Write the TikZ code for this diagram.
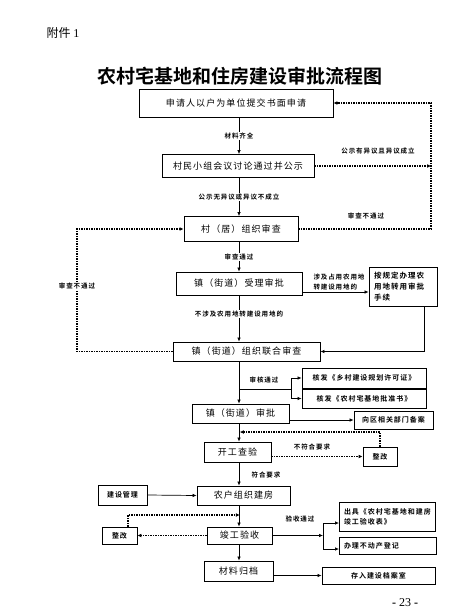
\documentclass[tikz,border=0pt]{standalone}
\usepackage{fontspec}
\usepackage{tikz}
\usetikzlibrary{arrows.meta,positioning}
\newfontfamily\cjk{Noto Sans CJK SC}[LetterSpace=12]
\newfontfamily\cjksmall{Noto Sans CJK SC Bold}[LetterSpace=14]
\newfontfamily\cjkplain{Noto Sans CJK SC}
\newfontfamily\cjktitle{Noto Sans CJK SC Bold}
\newfontfamily\pagefont{Liberation Serif}

\begin{document}
\begin{tikzpicture}[x=1pt, y=-1pt,
  box/.style={draw, line width=0.8pt, minimum height=19pt, inner sep=0pt, align=center,
              font=\cjk\fontsize{9}{11}\selectfont},
  smallbox/.style={draw, line width=0.8pt, inner xsep=5pt, inner ysep=2pt, align=left,
                   font=\cjksmall\fontsize{7}{10}\selectfont},
  tag/.style={inner sep=1pt, align=left, font=\cjksmall\fontsize{6.5}{10}\selectfont},
  gap/.style={tag, fill=white},
  link/.style={line width=0.7pt},
  route/.style={link, -{Latex[length=4pt,width=3.6pt]}},
  dotroute/.style={line width=1.3pt, dash pattern=on 1.3pt off 1.2pt,
                   -{Latex[length=4pt,width=3.8pt]}}
]
\fill[white] (0,0) rectangle (475,613);
\useasboundingbox (0,0) rectangle (475,613);

\node[font=\cjkplain\fontsize{12}{14}\selectfont] (annex) at (63,33) {附件 {\pagefont 1}};
\node[font=\cjktitle\fontsize{19}{22}\selectfont] (title) at (240,76) {农村宅基地和住房建设审批流程图};

\coordinate (trunk) at (239,0);
\node[box, minimum width=194pt, minimum height=28pt] (apply) at (236,103) {申请人以户为单位提交书面申请};
\node[box, minimum width=152pt, minimum height=23pt] (meeting) at (238,166) {村民小组会议讨论通过并公示};
\node[box, minimum width=114pt, minimum height=25pt] (review) at (241,229) {村（居）组织审查};
\node[box, minimum width=126pt, minimum height=23pt] (accept) at (239,283.5) {镇（街道）受理审批};
\node[smallbox, minimum width=68pt, minimum height=39pt, text width=58pt, font=\cjksmall\fontsize{7.5}{11}\selectfont]
  (farmland) at (403,286.5) {按规定办理农\\用地转用审批\\手续};
\node[box, minimum width=147pt] (joint) at (246.5,351.5) {镇（街道）组织联合审查};
\node[smallbox, minimum width=124pt, minimum height=20pt] (permitA) at (364,378) {核发《乡村建设规划许可证》};
\node[smallbox, minimum width=124pt, minimum height=19pt] (permitB) at (364,398.5) {核发《农村宅基地批准书》};
\node[box, minimum width=97pt] (approve) at (240.5,413.5) {镇（街道）审批};
\node[smallbox, minimum width=79pt, minimum height=18pt] (record) at (393.5,420) {向区相关部门备案};
\node[box, minimum width=67pt, minimum height=20pt] (inspect) at (237.5,452) {开工查验};
\node[smallbox, minimum width=34pt, minimum height=19pt] (fixA) at (380,456.5) {整改};
\node[box, minimum width=93pt] (build) at (243.5,495.5) {农户组织建房};
\node[smallbox, minimum width=49pt, minimum height=20pt] (manage) at (122.5,495) {建设管理};
\node[box, minimum width=65pt, minimum height=17pt] (complete) at (239.5,535.5) {竣工验收};
\node[smallbox, minimum width=35pt, minimum height=17pt] (fixB) at (119.5,535.5) {整改};
\node[smallbox, minimum width=96pt, minimum height=29pt, text width=86pt] (certA) at (387,516.5) {出具《农村宅基地和建房\\竣工验收表》};
\node[smallbox, minimum width=97pt, minimum height=17pt, text width=87pt] (certB) at (387.5,545.5) {办理不动产登记};
\node[box, minimum width=69pt, minimum height=20pt] (archive) at (238.5,571) {材料归档};
\node[smallbox, minimum width=113pt, minimum height=17pt, align=center] (store) at (378.5,575.5) {存入建设档案室};

\node[font=\pagefont\fontsize{12}{14}\selectfont] (page) at (405,603) {\textbf{-} 23 \textbf{-}};

\draw[route] (apply.south -| trunk) -- (meeting.north -| trunk) node[gap, midway] {材料齐全};
\draw[route] (meeting.south -| trunk) -- (review.north -| trunk) node[gap, midway] {公示无异议或异议不成立};
\draw[route] (review.south -| trunk) -- (accept.north -| trunk) node[gap, midway] {审查通过};
\draw[route] (accept.south -| trunk) -- (joint.north -| trunk) node[gap, pos=0.4] {不涉及农用地转建设用地的};
\draw[route] ([yshift=-8.5pt]accept.east) -- ([yshift=-8.5pt]accept.east -| farmland.west);
\node[tag] (farmtag) at (339,282) {涉及占用农用地\\转建设用地的};
\draw[route] ([xshift=21pt]farmland.south) |- (joint.east);

\coordinate (lefttop) at (77,229);
\draw[dotroute] (joint.west) -| (lefttop) -- (review.west);
\node[gap] (rejectL) at (77,286) {审查不通过};
\coordinate (righttop) at (431,103);
\draw[dotroute] (review.east) -| (righttop) -- (apply.east);
\draw[dotroute] (meeting.east) -- (meeting.east -| righttop);
\node[tag] (objection) at (378,151) {公示有异议且异议成立};
\node[tag] (rejectR) at (366,216) {审查不通过};

\coordinate (split1) at (291,389);
\draw[route] (joint.south -| trunk) -- (approve.north -| trunk);
\node[tag] (passA) at (264,380) {审核通过};
\draw[link] (split1 -| trunk) -- (split1);
\draw[route] (split1) |- (permitA.west);
\draw[route] (split1) |- (permitB.west);
\draw[route] (approve.east |- record.west) -- (record.west);

\draw[route] (approve.south -| trunk) -- (inspect.north -| trunk);
\coordinate (back1) at (239.8,432);
\draw[dotroute] (fixA.north) |- (back1);
\draw[dotroute] (inspect.east |- fixA.west) -- (fixA.west);
\node[tag] (failA) at (312,447) {不符合要求};
\draw[route] (inspect.south -| trunk) -- (build.north -| trunk);
\node[tag] (okA) at (266,475) {符合要求};
\draw[route] (manage.east) -- (build.west);

\draw[route] (build.south -| trunk) -- (complete.north -| trunk);
\coordinate (back2) at (239.8,515);
\draw[dotroute] ([xshift=8.5pt]fixB.north) |- (back2);
\draw[dotroute] (complete.west) -- (fixB.east);
\coordinate (split2) at (323,535.5);
\coordinate (toA) at (339,523);
\coordinate (toB) at (339,549);
\draw[route] (complete.east) -- (split2);
\draw[route] (split2) |- (toA);
\draw[route] (split2) |- (toB);
\node[tag] (passB) at (300,519) {验收通过};

\draw[route] (complete.south -| trunk) -- (archive.north -| trunk);
\draw[route] (archive.east |- store.west) -- (store.west);
\end{tikzpicture}
\end{document}
